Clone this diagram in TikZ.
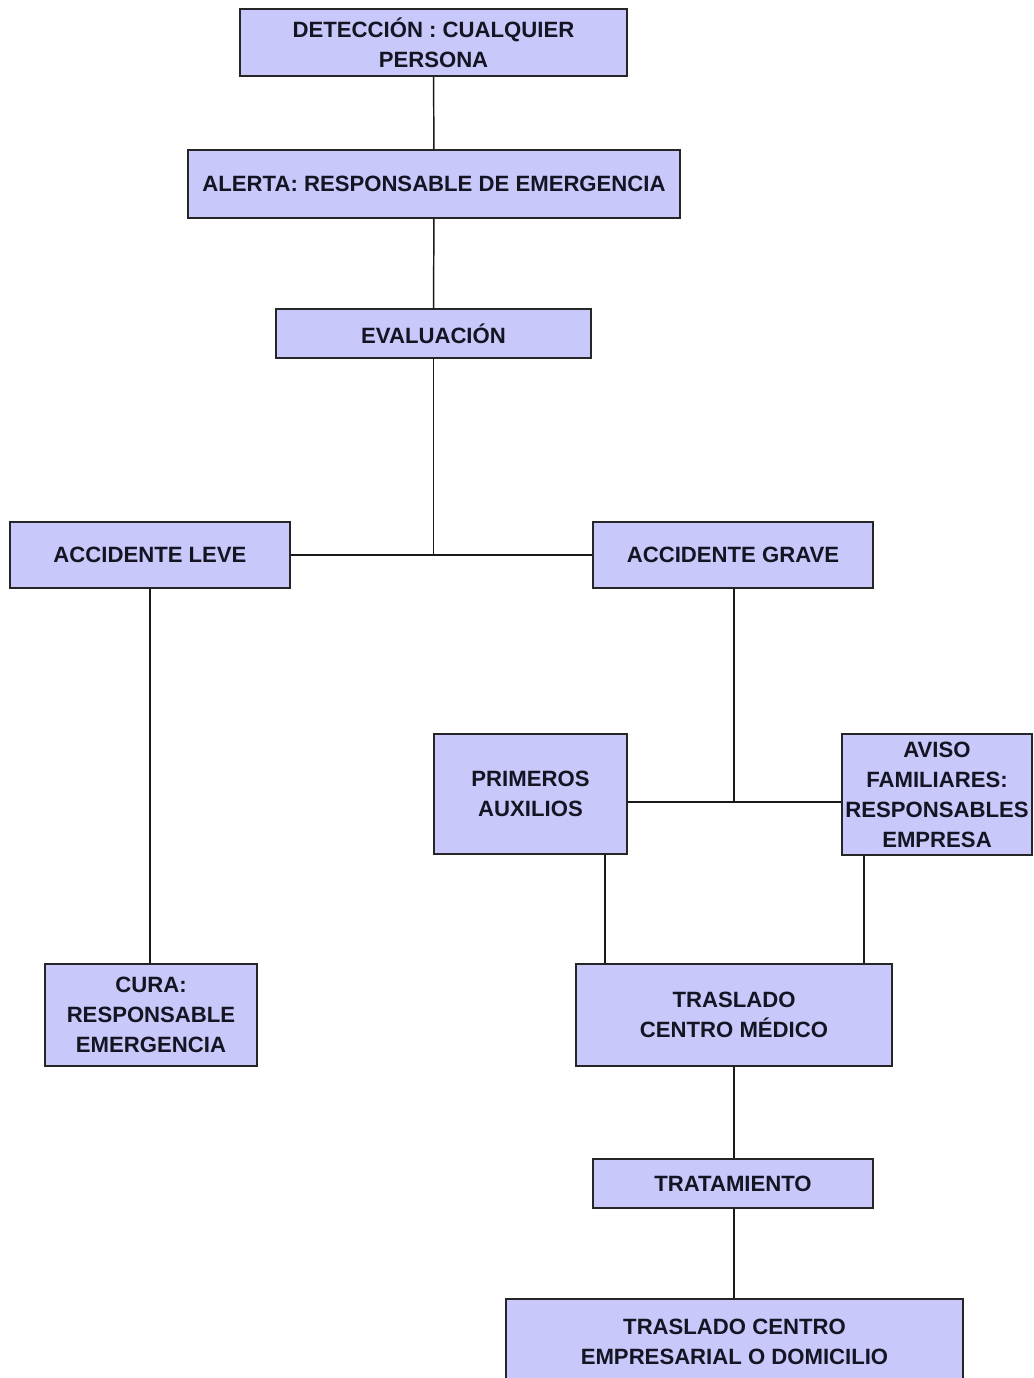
\documentclass[tikz,border=0pt]{standalone}
\usepackage{fontspec}
\setmainfont{Liberation Sans}
\definecolor{boxfill}{RGB}{200,200,250}
\definecolor{boxtext}{RGB}{20,20,35}
\begin{document}
\begin{tikzpicture}[x=0.75pt,y=-0.75pt,
  box/.style={draw=black!85, line width=1.2pt, fill=boxfill, text=boxtext,
    align=center, inner sep=0pt, font=\fontsize{16.6}{22.5}\selectfont\bfseries},
  conn/.style={draw=black!90, line width=1.1pt}]
\clip (0,0) rectangle (1033,1378);
\fill[white] (0,0) rectangle (1033,1378);
\node[box, minimum width=387*0.75pt, minimum height=67*0.75pt] (n1) at (433.5,42.5) {DETECCIÓN : CUALQUIER\\PERSONA};
\node[box, minimum width=492*0.75pt, minimum height=68*0.75pt] (n2) at (434,184) {ALERTA: RESPONSABLE DE EMERGENCIA};
\node[box, minimum width=315*0.75pt, minimum height=49*0.75pt] (n3) at (433.5,333.5) {EVALUACIÓN};
\node[box, minimum width=280*0.75pt, minimum height=66*0.75pt] (n4) at (150,555) {ACCIDENTE LEVE};
\node[box, minimum width=280*0.75pt, minimum height=66*0.75pt] (n5) at (733,555) {ACCIDENTE GRAVE};
\node[box, minimum width=193*0.75pt, minimum height=120*0.75pt] (n6) at (530.5,794) {PRIMEROS\\AUXILIOS};
\node[box, minimum width=190*0.75pt, minimum height=121*0.75pt] (n7) at (937,794.5) {AVISO\\FAMILIARES:\\RESPONSABLES\\EMPRESA};
\node[box, minimum width=212*0.75pt, minimum height=102*0.75pt] (n8) at (151,1015) {CURA:\\RESPONSABLE\\EMERGENCIA};
\node[box, minimum width=316*0.75pt, minimum height=102*0.75pt] (n9) at (734,1015) {TRASLADO\\CENTRO MÉDICO};
\node[box, minimum width=280*0.75pt, minimum height=49*0.75pt] (n10) at (733,1183.5) {TRATAMIENTO};
\node[box, minimum width=457*0.75pt, minimum height=86*0.75pt] (n11) at (734.5,1342) {TRASLADO CENTRO\\EMPRESARIAL O DOMICILIO};
\coordinate (j1) at (433.5,555);
\coordinate (j2) at (734,802);
\coordinate (p1) at (605,0);
\coordinate (p2) at (864,0);
\draw[conn] (n1) -- (n2);
\draw[conn] (n2) -- (n3);
\draw[conn] (n3.south) -- (j1);
\draw[conn] (n4.east) -- (n5.west);
\draw[conn] (n4.south) -- (n4.south |- n8.north);
\draw[conn] (n5.south -| j2) -- (j2);
\draw[conn] (n6.east |- j2) -- (n7.west |- j2);
\draw[conn] (p1 |- n6.south) -- (p1 |- n9.north);
\draw[conn] (p2 |- n7.south) -- (p2 |- n9.north);
\draw[conn] (n9.south -| j2) -- (n10.north -| j2);
\draw[conn] (n10.south -| j2) -- (n11.north -| j2);
\end{tikzpicture}
\end{document}
